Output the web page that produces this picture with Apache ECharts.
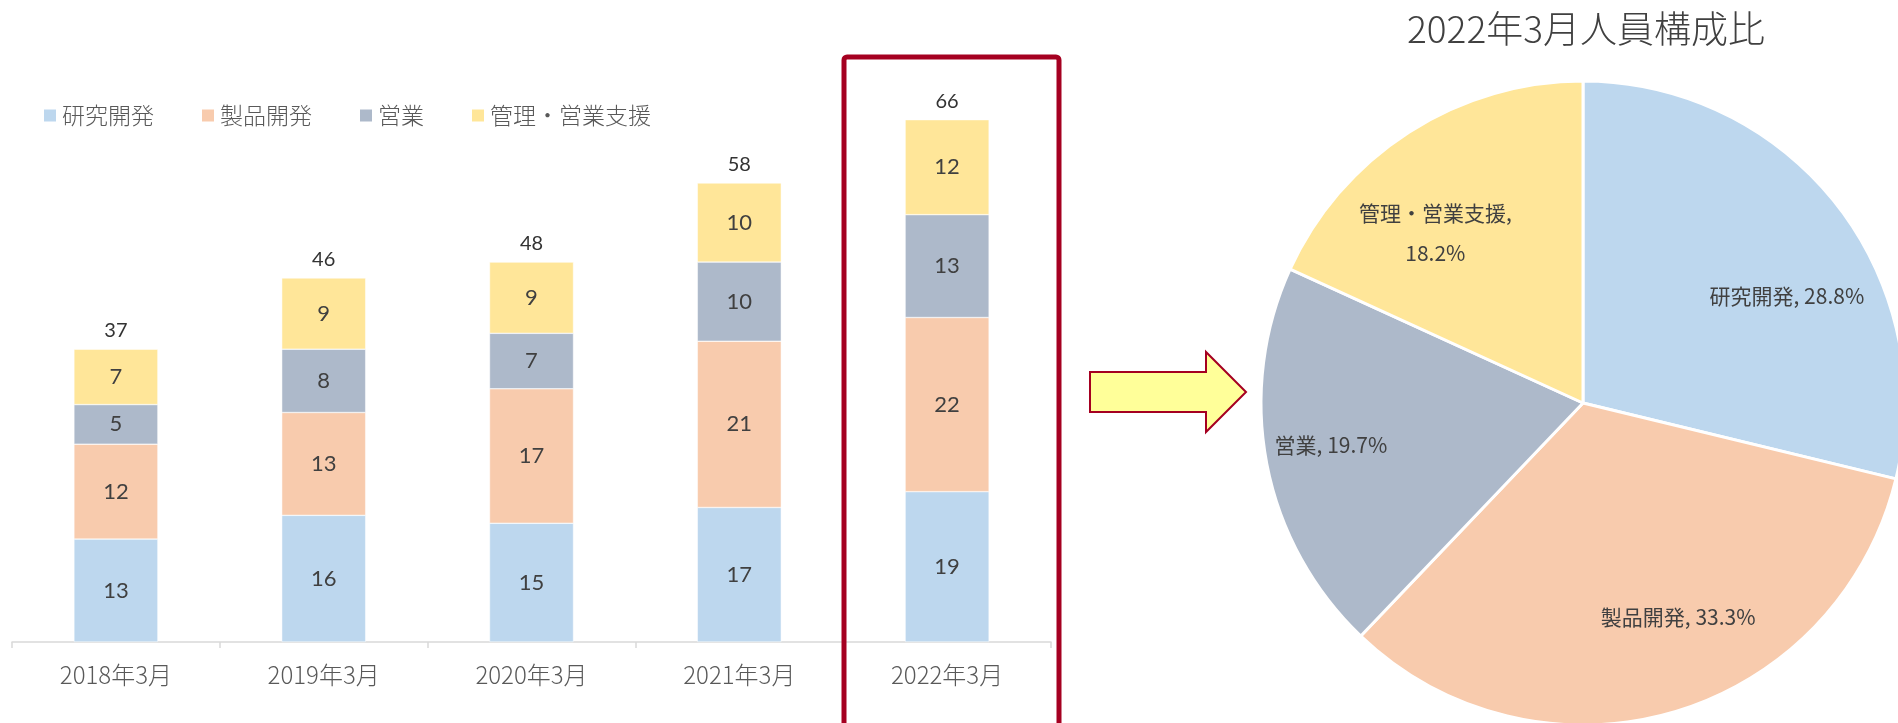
<!DOCTYPE html>
<html>
<head>
<meta charset="utf-8">
<script src="https://cdn.jsdelivr.net/npm/echarts@6/dist/echarts.min.js"></script>
<style>
html,body{margin:0;padding:0;background:#fff;}
#chart{width:1898px;height:723px;}
</style>
</head>
<body>
<div id="chart"></div>
<script>
const categories = ['2018年3月', '2019年3月', '2020年3月', '2021年3月', '2022年3月'];
const seriesNames = ['研究開発', '製品開発', '営業', '管理・営業支援'];
const research = [13, 16, 15, 17, 19];
const product = [12, 13, 17, 21, 22];
const sales = [5, 8, 7, 10, 13];
const admin = [7, 9, 9, 10, 12];
const totals = [37, 46, 48, 58, 66];
const pieTitle = '2022年3月人員構成比';

const colors = ['#BDD7EE', '#F8CBAD', '#ADB9CA', '#FFE699'];
const numFont = 'Lato, "Noto Sans CJK JP", sans-serif';
const jpFont = '"Noto Sans CJK JP", sans-serif';

const barData = [research, product, sales, admin];
const lastIdx = categories.length - 1;
const pieData = seriesNames.map((n, i) => ({ name: n, value: barData[i][lastIdx], itemStyle: { color: colors[i] } }));

const labelShift = [[75, -6], [49, 57], [-91, 11], [-59, -32]];

const chart = echarts.init(document.getElementById('chart'));
const option = {
  backgroundColor: '#ffffff',
  animation: false,
  title: {
    text: pieTitle,
    left: 1581,
    top: 5,
    textAlign: 'center',
    textStyle: { fontFamily: jpFont, fontSize: 37, fontWeight: 300, color: '#404040' }
  },
  legend: {
    data: seriesNames,
    left: 37,
    top: 99,
    icon: 'rect',
    itemWidth: 14,
    itemHeight: 14,
    itemGap: 46,
    textStyle: { fontFamily: jpFont, fontSize: 23, fontWeight: 300, color: '#595959' }
  },
  grid: { left: 12, right: 847, top: 88, bottom: 81, containLabel: false },
  xAxis: {
    type: 'category',
    data: categories,
    axisLine: { lineStyle: { color: '#D9D9D9', width: 1.5 } },
    axisTick: { show: true, length: 6, lineStyle: { color: '#D9D9D9', width: 1.5 } },
    axisLabel: { fontFamily: jpFont, fontSize: 24, fontWeight: 300, color: '#595959', margin: 21 }
  },
  yAxis: { type: 'value', min: 0, max: 70, show: false, splitLine: { show: false } },
  series: seriesNames.map((n, i) => ({
    name: n,
    type: 'bar',
    stack: 'total',
    barWidth: 84,
    data: barData[i],
    itemStyle: { color: colors[i], borderColor: '#ffffff', borderWidth: 0.5 },
    label: { show: true, position: 'inside', fontFamily: numFont, fontSize: 22, color: '#404040' }
  })).concat([
    {
      name: '合計',
      type: 'line',
      data: totals,
      symbol: 'circle',
      symbolSize: 1,
      itemStyle: { color: 'rgba(0,0,0,0)' },
      lineStyle: { opacity: 0 },
      silent: true,
      label: { show: true, position: 'top', distance: 8, fontFamily: numFont, fontSize: 20, fontWeight: 'normal', color: '#333333' }
    },
    {
      name: pieTitle,
      type: 'pie',
      center: [1583, 403],
      radius: 322,
      startAngle: 90,
      clockwise: true,
      data: pieData,
      itemStyle: { borderColor: '#ffffff', borderWidth: 3 },
      label: {
        show: true,
        position: 'inside',
        fontFamily: jpFont,
        fontSize: 21,
        lineHeight: 40,
        color: '#404040',
        formatter: function (p) {
          const pct = p.percent.toFixed(1) + '%';
          return p.name.length > 4 ? p.name + ',\n' + pct : p.name + ', ' + pct;
        }
      },
      labelLine: { show: false },
      labelLayout: function (params) {
        const s = labelShift[params.dataIndex];
        return { dx: s[0], dy: s[1] };
      }
    }
  ]),
  graphic: [
    {
      type: 'rect',
      shape: { x: 844, y: 57, width: 215, height: 690, r: 3 },
      style: { fill: 'none', stroke: '#A50021', lineWidth: 5 },
      z: 100
    },
    {
      type: 'polygon',
      shape: { points: [[1090, 372], [1206, 372], [1206, 352], [1246, 392], [1206, 432], [1206, 412], [1090, 412]] },
      style: { fill: '#FFFF99', stroke: '#A50021', lineWidth: 2 },
      z: 100
    }
  ]
};
chart.setOption(option);
</script>
</body>
</html>
